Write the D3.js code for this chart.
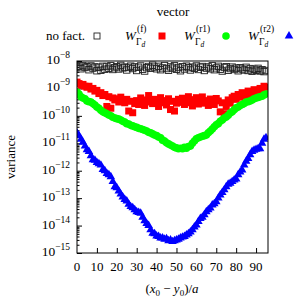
<!DOCTYPE html>
<meta charset="utf-8">
<script src="https://d3js.org/d3.v7.min.js"></script>

<div id="chart"></div>

<style>
body { margin: 0; background: #fff; }
#chart { position: absolute; left: 0; top: 0; }
text { font-family: "Liberation Serif", "DejaVu Serif", serif; fill: #000; }
.it { font-style: italic; }
</style>

<script>

// variance per position (x0 - y0)/a = 0 .. 95
var noFact = [
  6.0e-9, 6.5e-9, 5.2e-9, 6.8e-9, 5.8e-9, 6.2e-9, 4.8e-9, 6.6e-9, 5.5e-9, 6.1e-9,
  4.4e-9, 5.9e-9, 4.6e-9, 6.4e-9, 5.0e-9, 6.3e-9, 5.4e-9, 6.7e-9, 4.9e-9, 5.7e-9,
  6.2e-9, 5.1e-9, 6.9e-9, 5.6e-9, 6.0e-9, 4.7e-9, 5.8e-9, 6.5e-9, 5.3e-9, 6.1e-9,
  4.5e-9, 5.9e-9, 6.6e-9, 5.0e-9, 4.3e-9, 5.7e-9, 6.3e-9, 5.4e-9, 7.0e-9, 6.0e-9,
  5.2e-9, 6.4e-9, 4.8e-9, 5.6e-9, 6.8e-9, 5.3e-9, 4.6e-9, 6.1e-9, 5.5e-9, 6.7e-9,
  5.0e-9, 5.8e-9, 4.4e-9, 6.2e-9, 5.1e-9, 6.5e-9, 5.7e-9, 4.7e-9, 6.0e-9, 5.4e-9,
  6.6e-9, 4.9e-9, 5.9e-9, 6.3e-9, 4.5e-9, 5.5e-9, 6.1e-9, 5.2e-9, 6.7e-9, 4.8e-9,
  5.6e-9, 6.4e-9, 5.0e-9, 4.3e-9, 5.8e-9, 6.2e-9, 4.6e-9, 5.3e-9, 6.0e-9, 4.9e-9,
  5.5e-9, 4.4e-9, 5.7e-9, 5.1e-9, 4.7e-9, 5.9e-9, 4.5e-9, 5.3e-9, 4.2e-9, 5.0e-9,
  4.6e-9, 5.4e-9, 4.3e-9, 4.8e-9, 4.1e-9, 4.5e-9
];

var wF = [
  1.7e-9, 1.5e-9, 1.3e-9, 1.4e-9, 1.2e-9, 1.1e-9, 1.2e-9, 9.5e-10, 1.0e-9, 8.0e-10,
  8.5e-10, 6.5e-10, 7.0e-10, 5.5e-10, 6.0e-10, 2.2e-10, 5.0e-10, 1.9e-10, 4.5e-10, 3.8e-10,
  4.2e-10, 3.2e-10, 4.8e-10, 3.5e-10, 3.0e-10, 4.0e-10, 1.5e-10, 3.4e-10, 1.3e-10, 2.8e-10,
  3.6e-10, 2.6e-10, 4.5e-10, 3.0e-10, 2.4e-10, 3.8e-10, 5.5e-10, 3.2e-10, 2.8e-10, 4.0e-10,
  3.4e-10, 2.2e-10, 4.6e-10, 3.0e-10, 3.6e-10, 2.5e-10, 4.2e-10, 1.7e-10, 3.4e-10, 1.5e-10,
  2.9e-10, 4.0e-10, 3.1e-10, 4.4e-10, 2.6e-10, 3.6e-10, 5.0e-10, 3.0e-10, 2.3e-10, 3.9e-10,
  4.6e-10, 2.7e-10, 3.4e-10, 4.9e-10, 2.9e-10, 3.6e-10, 2.4e-10, 4.1e-10, 3.2e-10, 2.6e-10,
  4.3e-10, 3.5e-10, 1.4e-10, 3.0e-10, 1.2e-10, 2.2e-10, 3.8e-10, 2.9e-10, 4.6e-10, 5.2e-10,
  4.0e-10, 6.0e-10, 4.8e-10, 7.0e-10, 5.5e-10, 6.5e-10, 8.0e-10, 5.8e-10, 7.5e-10, 9.0e-10,
  6.8e-10, 8.5e-10, 1.0e-9, 9.0e-10, 1.2e-9, 1.1e-9
];

var wR1 = [
  7.4e-10, 6.3e-10, 5.0e-10, 4.5e-10, 4.2e-10, 3.5e-10, 3.3e-10, 3.2e-10, 2.8e-10, 2.5e-10,
  2.1e-10, 1.9e-10, 1.6e-10, 1.4e-10, 1.3e-10, 1.2e-10, 1.07e-10, 1.0e-10, 8.9e-11, 8.3e-11,
  7.9e-11, 7.6e-11, 7.1e-11, 6.3e-11, 6.0e-11, 5.2e-11, 5.0e-11, 4.5e-11, 4.3e-11, 4.0e-11,
  3.8e-11, 3.5e-11, 3.4e-11, 3.2e-11, 3.0e-11, 2.8e-11, 2.5e-11, 2.4e-11, 2.2e-11, 2.0e-11,
  1.9e-11, 1.7e-11, 1.6e-11, 1.3e-11, 1.2e-11, 1.05e-11, 9.5e-12, 8.7e-12, 7.9e-12, 7.1e-12,
  6.8e-12, 6.3e-12, 6.6e-12, 6.3e-12, 7.1e-12, 6.6e-12, 7.6e-12, 7.9e-12, 1.0e-11, 1.2e-11,
  1.45e-11, 1.6e-11, 1.7e-11, 1.8e-11, 1.9e-11, 2.0e-11, 2.4e-11, 2.8e-11, 3.3e-11, 4.0e-11,
  4.7e-11, 5.2e-11, 6.3e-11, 7.1e-11, 8.3e-11, 9.1e-11, 1.05e-10, 1.26e-10, 1.4e-10, 1.66e-10,
  1.95e-10, 2.1e-10, 2.4e-10, 2.6e-10, 2.8e-10, 3.2e-10, 3.3e-10, 3.5e-10, 3.8e-10, 4.2e-10,
  4.5e-10, 4.7e-10, 5.0e-10, 5.2e-10, 5.8e-10, 6.3e-10
];

var wR2 = [
  2.4e-11, 1.9e-11, 1.4e-11, 1.1e-11, 7.9e-12, 5.8e-12, 5.0e-12, 3.5e-12, 2.5e-12, 2.4e-12,
  2.0e-12, 1.8e-12, 1.6e-12, 1.1e-12, 1.0e-12, 7.9e-13, 7.1e-13, 6.0e-13, 4.0e-13, 2.6e-13,
  2.4e-13, 1.8e-13, 1.4e-13, 1.1e-13, 8.9e-14, 7.9e-14, 6.0e-14, 4.9e-14, 4.5e-14, 3.8e-14,
  3.2e-14, 3.0e-14, 2.8e-14, 2.0e-14, 1.5e-14, 1.2e-14, 1.0e-14, 7.1e-15, 5.2e-15, 5.0e-15,
  4.2e-15, 4.0e-15, 3.5e-15, 3.5e-15, 3.2e-15, 3.3e-15, 2.8e-15, 3.0e-15, 2.6e-15, 2.8e-15,
  3.0e-15, 3.2e-15, 3.5e-15, 3.8e-15, 4.0e-15, 4.5e-15, 5.0e-15, 5.8e-15, 7.1e-15, 8.9e-15,
  1.05e-14, 1.4e-14, 1.8e-14, 2.0e-14, 2.5e-14, 3.2e-14, 3.8e-14, 4.4e-14, 5.6e-14, 6.3e-14,
  7.4e-14, 1.0e-13, 1.3e-13, 1.6e-13, 2.0e-13, 2.6e-13, 3.2e-13, 3.5e-13, 4.0e-13, 4.6e-13,
  5.0e-13, 7.1e-13, 8.9e-13, 1.07e-12, 1.6e-12, 2.2e-12, 2.8e-12, 3.8e-12, 5.0e-12, 5.6e-12,
  6.0e-12, 6.3e-12, 6.3e-12, 1.0e-11, 1.4e-11, 1.6e-11
];

var xTicks = [10, 20, 30, 40, 50, 60, 70, 80, 90];
var xLabels = [0, 10, 20, 30, 40, 50, 60, 70, 80, 90];
var yExponents = [-8, -9, -10, -11, -12, -13, -14, -15];

var W = 300, H = 300;
var plotL = 77, plotR = 268, plotT = 61, plotB = 253;

var svg = d3.select("#chart")
  .append("svg")
    .attr("width", W)
    .attr("height", H);

var x = d3.scaleLinear().domain([0, 96]).range([plotL, plotR]);
var y = d3.scaleLog().domain([1e-15, 1e-8]).range([plotB, plotT]);

svg.append("defs").append("clipPath")
    .attr("id", "plotclip")
  .append("rect")
    .attr("x", plotL).attr("y", plotT)
    .attr("width", plotR - plotL).attr("height", plotB - plotT);

// minor ticks on the log axis
var minors = [];
yExponents.slice(1).forEach(function(e) {
  for (var k = 2; k <= 9; k++) minors.push(k * Math.pow(10, e));
});

svg.append("g")
    .attr("transform", "translate(" + plotL + ",0)")
    .call(d3.axisLeft(y).tickValues(minors).tickSize(-2.5).tickFormat(""))
    .call(function(g) { g.select(".domain").remove(); });

svg.append("g")
    .attr("transform", "translate(" + plotL + ",0)")
    .call(d3.axisLeft(y).tickValues(yExponents.map(function(e) { return Math.pow(10, e); }))
      .tickSize(-5).tickFormat(""))
    .call(function(g) { g.select(".domain").remove(); });

svg.append("g")
    .attr("transform", "translate(0," + plotB + ")")
    .call(d3.axisBottom(x).tickValues(xTicks).tickSize(-5).tickFormat(""))
    .call(function(g) { g.select(".domain").remove(); });

svg.selectAll(".tick line").attr("stroke", "#000").attr("stroke-width", 1);

// y labels 10^e
var ylab = svg.append("g").selectAll("text")
  .data(yExponents)
  .enter()
  .append("text")
    .attr("x", 70)
    .attr("y", function(e) { return y(Math.pow(10, e)) + 3; })
    .attr("text-anchor", "end")
    .style("font-size", "13.5px");
ylab.append("tspan").text("10");
ylab.append("tspan")
    .attr("dy", -6)
    .style("font-size", "9.5px")
    .text(function(e) { return "\u2212" + (-e); });

svg.append("g").selectAll("text")
  .data(xLabels)
  .enter()
  .append("text")
    .attr("x", function(d) { return x(d); })
    .attr("y", 271)
    .attr("text-anchor", "middle")
    .style("font-size", "13px")
    .text(function(d) { return d; });

// markers
var plot = svg.append("g").attr("clip-path", "url(#plotclip)");

plot.append("g").selectAll("rect")
  .data(noFact)
  .enter()
  .append("rect")
    .attr("x", function(d, i) { return x(i) - 3.2; })
    .attr("y", function(d) { return y(d) - 3.2; })
    .attr("width", 6.4).attr("height", 6.4)
    .attr("fill", "none")
    .attr("stroke", "#222")
    .attr("stroke-width", 0.9);

plot.append("g").selectAll("rect")
  .data(wF)
  .enter()
  .append("rect")
    .attr("x", function(d, i) { return x(i) - 3.5; })
    .attr("y", function(d) { return y(d) - 3.5; })
    .attr("width", 7).attr("height", 7)
    .attr("fill", "#ff0000");

plot.append("g").selectAll("circle")
  .data(wR1)
  .enter()
  .append("circle")
    .attr("cx", function(d, i) { return x(i); })
    .attr("cy", function(d) { return y(d); })
    .attr("r", 3.8)
    .attr("fill", "#00ff00");

var tri = d3.symbol().type(d3.symbolTriangle).size(32);
plot.append("g").selectAll("path")
  .data(wR2)
  .enter()
  .append("path")
    .attr("d", tri)
    .attr("transform", function(d, i) { return "translate(" + x(i) + "," + y(d) + ")"; })
    .attr("fill", "#0000ff");

// frame
svg.append("rect")
    .attr("x", plotL).attr("y", plotT)
    .attr("width", plotR - plotL).attr("height", plotB - plotT)
    .attr("fill", "none")
    .attr("stroke", "#000")
    .attr("stroke-width", 1);

// axis titles
svg.append("text")
    .attr("transform", "translate(15,157) rotate(-90)")
    .attr("text-anchor", "middle")
    .style("font-size", "13px")
    .text("variance");

var xt = svg.append("text")
    .attr("x", 172)
    .attr("y", 293)
    .attr("text-anchor", "middle")
    .style("font-size", "13px");
xt.append("tspan").text("(");
xt.append("tspan").attr("class", "it").text("x");
xt.append("tspan").attr("dy", 3).style("font-size", "9px").text("0");
xt.append("tspan").attr("dy", -3).text(" \u2212 ");
xt.append("tspan").attr("class", "it").text("y");
xt.append("tspan").attr("dy", 3).style("font-size", "9px").text("0");
xt.append("tspan").attr("dy", -3).text(")/");
xt.append("tspan").attr("class", "it").text("a");

// legend
svg.append("text")
    .attr("x", 173).attr("y", 16)
    .attr("text-anchor", "middle")
    .style("font-size", "13px")
    .text("vector");

svg.append("text")
    .attr("x", 85).attr("y", 40)
    .attr("text-anchor", "end")
    .style("font-size", "13px")
    .text("no fact.");

svg.append("rect")
    .attr("x", 94).attr("y", 33)
    .attr("width", 6).attr("height", 6)
    .attr("fill", "none").attr("stroke", "#222").attr("stroke-width", 0.9);

var wKeys = [
  {x: 125, sup: "(f)"},
  {x: 184, sup: "(r1)"},
  {x: 248, sup: "(r2)"}
];
wKeys.forEach(function(k) {
  svg.append("text").attr("class", "it")
      .attr("x", k.x).attr("y", 40)
      .style("font-size", "13px")
      .text("W");
  svg.append("text")
      .attr("x", k.x + 12).attr("y", 32)
      .style("font-size", "9.5px")
      .text(k.sup);
  var s = svg.append("text")
      .attr("x", k.x + 11).attr("y", 45)
      .style("font-size", "9.5px");
  s.append("tspan").text("\u0393");
  s.append("tspan").attr("class", "it").attr("dy", 2).style("font-size", "7.5px").text("d");
});

svg.append("rect")
    .attr("x", 158.5).attr("y", 32.5)
    .attr("width", 7).attr("height", 7)
    .attr("fill", "#ff0000");

svg.append("circle")
    .attr("cx", 226).attr("cy", 36)
    .attr("r", 3.8)
    .attr("fill", "#00ff00");

svg.append("path")
    .attr("d", tri)
    .attr("transform", "translate(289,36)")
    .attr("fill", "#0000ff");

</script>
